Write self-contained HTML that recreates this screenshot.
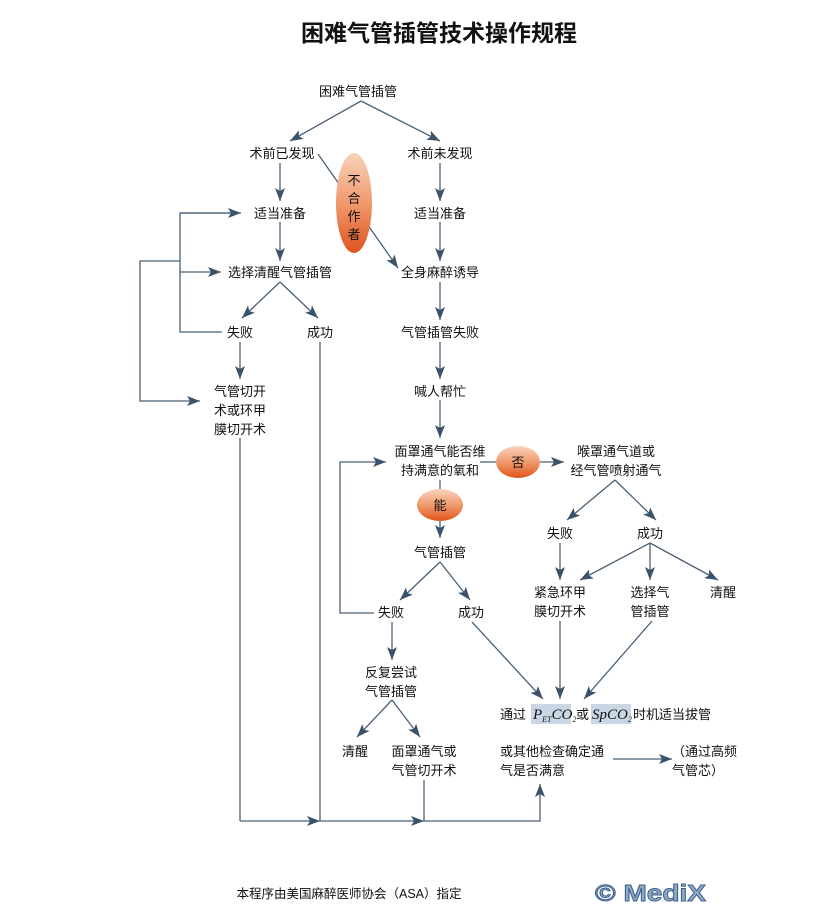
<!DOCTYPE html>
<html><head><meta charset="utf-8"><style>
html,body{margin:0;padding:0;background:#fff;}
svg text{font-family:"Liberation Sans","Noto Sans CJK SC",sans-serif;font-size:13px;fill:#111;}
</style></head><body>
<svg width="821" height="914" viewBox="0 0 821 914" xmlns="http://www.w3.org/2000/svg">
<defs>
<marker id="a" markerWidth="13" markerHeight="10" refX="13" refY="5" orient="auto" markerUnits="userSpaceOnUse">
<path d="M0,0 L13,5 L0,10 L3,5 Z" fill="#3a526a"/></marker>
<linearGradient id="g" x1="0" y1="0" x2="0" y2="1">
<stop offset="0" stop-color="#f9d2bc"/><stop offset="0.5" stop-color="#f09a6e"/><stop offset="1" stop-color="#e0541e"/></linearGradient>
</defs>
<text x="439" y="41" text-anchor="middle" style="font-size:23px;font-weight:bold">困难气管插管技术操作规程</text>
<g stroke="#4a6178" stroke-width="1.3" fill="none">
<line x1="361" y1="101" x2="290" y2="141" marker-end="url(#a)"/>
<line x1="361" y1="101" x2="440" y2="141" marker-end="url(#a)"/>
<line x1="280" y1="163" x2="280" y2="201" marker-end="url(#a)"/>
<line x1="440" y1="163" x2="440" y2="201" marker-end="url(#a)"/>
<line x1="280" y1="222" x2="280" y2="261" marker-end="url(#a)"/>
<line x1="440" y1="222" x2="440" y2="261" marker-end="url(#a)"/>
<line x1="318" y1="154" x2="398" y2="268" marker-end="url(#a)"/>
<line x1="280" y1="282" x2="242" y2="318" marker-end="url(#a)"/>
<line x1="280" y1="282" x2="318" y2="318" marker-end="url(#a)"/>
<polyline points="222,332 180,332 180,213 239,213"/>
<line x1="180" y1="213" x2="241" y2="213" marker-end="url(#a)"/>
<line x1="180" y1="272" x2="221" y2="272" marker-end="url(#a)"/>
<polyline points="180,261 140,261 140,401 200,401" marker-end="url(#a)"/>
<line x1="240" y1="342" x2="240" y2="379" marker-end="url(#a)"/>
<line x1="440" y1="282" x2="440" y2="320" marker-end="url(#a)"/>
<line x1="440" y1="342" x2="440" y2="379" marker-end="url(#a)"/>
<line x1="440" y1="400" x2="440" y2="438" marker-end="url(#a)"/>
<line x1="480" y1="462" x2="500" y2="462"/>
<line x1="538" y1="462" x2="564" y2="462" marker-end="url(#a)"/>
<line x1="440" y1="480" x2="440" y2="492"/>
<line x1="440" y1="520" x2="440" y2="538" marker-end="url(#a)"/>
<line x1="440" y1="562" x2="400" y2="600" marker-end="url(#a)"/>
<line x1="440" y1="562" x2="470" y2="600" marker-end="url(#a)"/>
<polyline points="374,613 340,613 340,462 386,462" marker-end="url(#a)"/>
<line x1="392" y1="622" x2="392" y2="660" marker-end="url(#a)"/>
<line x1="392" y1="700" x2="357" y2="737" marker-end="url(#a)"/>
<line x1="392" y1="700" x2="420" y2="737" marker-end="url(#a)"/>
<line x1="472" y1="622" x2="543" y2="699" marker-end="url(#a)"/>
<line x1="615" y1="480" x2="567" y2="520" marker-end="url(#a)"/>
<line x1="615" y1="480" x2="656" y2="520" marker-end="url(#a)"/>
<line x1="560" y1="543" x2="560" y2="580" marker-end="url(#a)"/>
<line x1="650" y1="543" x2="580" y2="580" marker-end="url(#a)"/>
<line x1="650" y1="543" x2="650" y2="580" marker-end="url(#a)"/>
<line x1="650" y1="543" x2="718" y2="580" marker-end="url(#a)"/>
<line x1="560" y1="621" x2="560" y2="699" marker-end="url(#a)"/>
<line x1="652" y1="621" x2="584" y2="699" marker-end="url(#a)"/>
<line x1="613" y1="759" x2="672" y2="759" marker-end="url(#a)"/>
<line x1="240" y1="438" x2="240" y2="821"/>
<line x1="240" y1="821" x2="320" y2="821" marker-end="url(#a)"/>
<line x1="320" y1="342" x2="320" y2="821"/>
<line x1="320" y1="821" x2="424" y2="821" marker-end="url(#a)"/>
<line x1="424" y1="780" x2="424" y2="821"/>
<polyline points="424,821 540,821 540,784" marker-end="url(#a)"/>
</g>
<ellipse cx="354" cy="203" rx="18" ry="50" fill="url(#g)"/>
<text x="354" y="185" text-anchor="middle">不</text>
<text x="354" y="203" text-anchor="middle">合</text>
<text x="354" y="221" text-anchor="middle">作</text>
<text x="354" y="239" text-anchor="middle">者</text>
<ellipse cx="518" cy="462" rx="22" ry="16" fill="url(#g)"/>
<text x="518" y="467" text-anchor="middle">否</text>
<ellipse cx="440" cy="505" rx="23" ry="16" fill="url(#g)"/>
<text x="440" y="510" text-anchor="middle">能</text>
<g text-anchor="middle">
<text x="358" y="96">困难气管插管</text>
<text x="282" y="158">术前已发现</text>
<text x="440" y="158">术前未发现</text>
<text x="280" y="218">适当准备</text>
<text x="440" y="218">适当准备</text>
<text x="280" y="277">选择清醒气管插管</text>
<text x="440" y="277">全身麻醉诱导</text>
<text x="240" y="337">失败</text>
<text x="320" y="337">成功</text>
<text x="440" y="337">气管插管失败</text>
<text x="240" y="396">气管切开</text>
<text x="240" y="415">术或环甲</text>
<text x="240" y="434">膜切开术</text>
<text x="440" y="396">喊人帮忙</text>
<text x="440" y="456">面罩通气能否维</text>
<text x="440" y="475">持满意的氧和</text>
<text x="616" y="456">喉罩通气道或</text>
<text x="616" y="475">经气管喷射通气</text>
<text x="560" y="538">失败</text>
<text x="650" y="538">成功</text>
<text x="440" y="557">气管插管</text>
<text x="391" y="617">失败</text>
<text x="471" y="617">成功</text>
<text x="560" y="597">紧急环甲</text>
<text x="560" y="616">膜切开术</text>
<text x="650" y="597">选择气</text>
<text x="650" y="616">管插管</text>
<text x="723" y="597">清醒</text>
<text x="391" y="677">反复尝试</text>
<text x="391" y="696">气管插管</text>
<text x="355" y="756">清醒</text>
<text x="424" y="756">面罩通气或</text>
<text x="424" y="775">气管切开术</text>
</g>
<rect x="531" y="704" width="40" height="20" fill="#c9d6e3"/>
<rect x="591" y="704" width="40" height="20" fill="#c9d6e3"/>
<text x="500" y="719">通过</text>
<text x="533" y="719" style="font-family:'Liberation Serif',serif;font-style:italic;font-size:15px">P<tspan style="font-size:8px" dy="3">ET</tspan><tspan dy="-3">CO</tspan><tspan style="font-size:8px" dy="3">2</tspan></text>
<text x="576" y="719">或</text>
<text x="592" y="719" style="font-family:'Liberation Serif',serif;font-style:italic;font-size:15px">SpCO<tspan style="font-size:8px" dy="3">2</tspan></text>
<text x="633" y="719">时机适当拔管</text>
<text x="500" y="756">或其他检查确定通</text>
<text x="500" y="775">气是否满意</text>
<text x="672" y="756">（通过高频</text>
<text x="672" y="775">气管芯）</text>
<text x="349" y="898" text-anchor="middle" style="font-size:12.5px">本程序由美国麻醉医师协会（ASA）指定</text>
<text x="595" y="901" textLength="111" lengthAdjust="spacingAndGlyphs" style="font-size:23px;font-weight:bold;fill:#8fa9c9;stroke:#3d5f8a;stroke-width:0.9">© MediX</text>
</svg>
</body></html>
